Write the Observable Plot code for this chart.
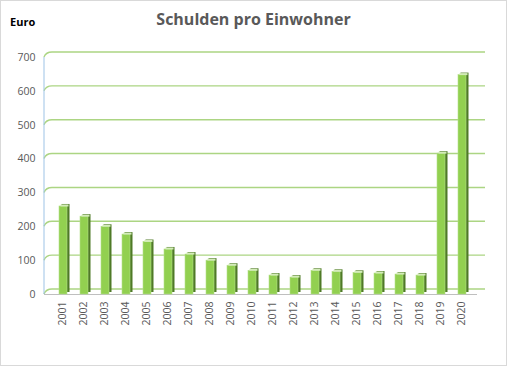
<!DOCTYPE html>
<html><head><meta charset="utf-8">
<script src="https://cdn.jsdelivr.net/npm/d3@7"></script>
<script src="https://cdn.jsdelivr.net/npm/@observablehq/plot@0.6"></script>
<style>
body{margin:0;background:#fff}
#wrap{position:relative;width:507px;height:366px}
#title{position:absolute;left:0;width:507px;top:9px;text-align:center;font:bold 16px "Open Sans",sans-serif;color:#595959;line-height:20px}
#unit{position:absolute;left:10px;top:15px;font:bold 11px "Open Sans",sans-serif;color:#000;line-height:14px}
#border{position:absolute;left:0;top:0;width:505px;height:364px;border:1px solid #d9d9d9;pointer-events:none}
</style></head>
<body>
<div id="wrap">
<div id="chart"></div>
<div id="title">Schulden pro Einwohner</div>
<div id="unit">Euro</div>
<div id="border"></div>
</div>
<script>
const years = ["2001","2002","2003","2004","2005","2006","2007","2008","2009","2010","2011","2012","2013","2014","2015","2016","2017","2018","2019","2020"];
const values = [260,230,200,177,155,133,118,100,85,70,56,50,70,67,64,62,59,56,416,648];
const yTicks = [0,100,200,300,400,500,600,700];

const data = years.map((year, i) => ({year, value: values[i]}));

const gridColor = "#acd583";
const depthX = 8, depthY = -5;

function wallSlants(index, scales, vals, dims) {
  const ns = "http://www.w3.org/2000/svg";
  const g = document.createElementNS(ns, "g");
  const x0 = dims.marginLeft - 2;
  const x1 = dims.width - dims.marginRight;
  const y0 = scales.y(0);
  for (const t of yTicks) {
    const yy = scales.y(t);
    const p = document.createElementNS(ns, "path");
    p.setAttribute("d", `M${x0},${yy}Q${x0 + 2},${yy + depthY} ${x0 + depthX},${yy + depthY}H${x1 + depthX}`);
    p.setAttribute("fill", "none");
    p.setAttribute("stroke", gridColor); p.setAttribute("stroke-width", 1.4);
    g.appendChild(p);
  }
  const la = document.createElementNS(ns, "line");
  la.setAttribute("x1", x0); la.setAttribute("x2", x0);
  la.setAttribute("y1", scales.y(700)); la.setAttribute("y2", y0);
  la.setAttribute("stroke", "#9dc3e6"); la.setAttribute("stroke-width", 1);
  g.appendChild(la);
  const ba = document.createElementNS(ns, "line");
  ba.setAttribute("x1", x0); ba.setAttribute("x2", x1);
  ba.setAttribute("y1", y0 + 0.5); ba.setAttribute("y2", y0 + 0.5);
  ba.setAttribute("stroke", "#bfbfbf"); ba.setAttribute("stroke-width", 1);
  g.appendChild(ba);
  return g;
}

const chart = Plot.plot({
  width: 507,
  height: 366,
  marginLeft: 46,
  marginRight: 30,
  marginTop: 57,
  marginBottom: 72,
  style: {fontFamily: "'Open Sans', sans-serif", fontSize: "10.5px", color: "#595959", background: "transparent"},
  x: {domain: years, paddingInner: 0.63, paddingOuter: 0.315, label: null, tickSize: 0, tickRotate: -90, tickPadding: 7},
  y: {domain: [0, 700], ticks: yTicks, label: null, tickSize: 0, tickPadding: 11, tickFormat: d => String(d)},
  marks: [
    wallSlants,
    Plot.barY(data, {x: "year", y: "value", fill: "#4f7a27", dx: 3.5, dy: -2}),
    Plot.barY(data, {x: "year", y: "value", fill: "#92d050", stroke: "#b5e08a", strokeWidth: 0.6, dx: 1}),
    Plot.tickY(data, {x: "year", y: "value", stroke: "#d4ecb9", strokeWidth: 2, dx: 2.5, dy: -1})
  ]
});
document.getElementById("chart").appendChild(chart);
</script>
</body></html>
